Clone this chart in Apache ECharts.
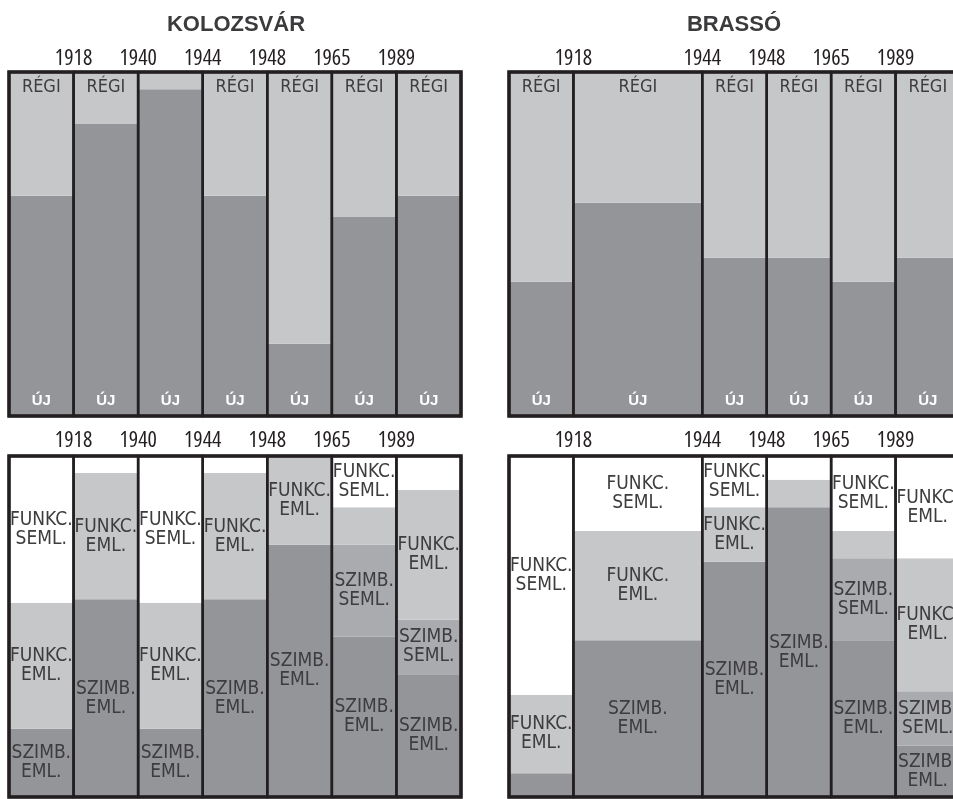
<!DOCTYPE html>
<html><head><meta charset="utf-8">
<script src="https://cdn.jsdelivr.net/npm/echarts@6/dist/echarts.min.js"></script>
<style>html,body{margin:0;padding:0;background:#fff}#c{width:953px;height:799px}</style>
</head><body><div id="c"></div>
<script>
// period index 0..7, year boundaries on the axis
const kolozsvarYears = ['1918','1940','1944','1948','1965','1989'];
const kolozsvarYearPos = [1,2,3,4,5,6];
const brassoYears = ['1918','1944','1948','1965','1989'];
const brassoYearPos = [1,3,4,5,6];

const kolozsvarColStart = [0,1,2,3,4,5,6];
const kolozsvarColEnd   = [1,2,3,4,5,6,7];
const brassoColStart = [0,1,3,4,5,6];
const brassoColEnd   = [1,3,4,5,6,7];

// top panels: share of ÚJ (new) names in %, the rest is RÉGI
const kolozsvarUj = [64, 85, 95, 64, 21, 58, 64];
const brassoUj    = [39, 62, 46, 46, 39, 46];

// bottom panels: shares in %, stacked from the bottom
const kolozsvarSzimbEml  = [20, 58, 20, 58, 74, 47, 36];
const kolozsvarSzimbSeml = [0, 0, 0, 0, 0, 27, 16];
const kolozsvarFunkcEml  = [37, 37, 37, 37, 26, 11, 38];
const kolozsvarFunkcSeml = [43, 5, 43, 5, 0, 15, 10];

const brassoSzimbEml  = [7, 46, 69, 85, 46, 15];
const brassoSzimbSeml = [0, 0, 0, 0, 24, 16];
const brassoFunkcEml  = [23, 32, 16, 8, 8, 39];
const brassoFunkcSeml = [70, 22, 15, 7, 22, 30];

const C = {white:'#ffffff', light:'#c6c7c9', mid:'#aaabae', dark:'#949599'};
const TXT = '#3d3d3f';
const NARROW = "'DejaVu Sans Condensed','Liberation Sans',sans-serif";
const REG = "'Liberation Sans',Arial,sans-serif";

function topItems(start, end, uj) {
  const items = [];
  for (let i = 0; i < uj.length; i++) {
    items.push({value:[start[i], end[i], 0, uj[i]], fill:C.dark, label:'ÚJ', pos:'insideBottom', dist:6,
      font:"bold 15px " + REG, color:'#ffffff'});
    const regi = 100 - uj[i];
    items.push({value:[start[i], end[i], uj[i], 100], fill:C.light, label: regi >= 10 ? 'RÉGI' : '', pos:'insideTop', dist:6,
      font:"18px " + NARROW, color:TXT});
  }
  return items;
}
const SEG_NAMES = ['SZIMB.\nEML.','SZIMB.\nSEML.','FUNKC.\nEML.','FUNKC.\nSEML.'];
const SEG_FILLS = [C.dark, C.mid, C.light, C.white];
function bottomItems(start, end, layers, override) {
  const items = [];
  for (let i = 0; i < start.length; i++) {
    let base = 0;
    for (let k = 0; k < layers.length; k++) {
      const v = layers[k][i];
      if (v > 0) {
        let label = v >= 12 ? SEG_NAMES[k] : '';
        if (override && override.col === i && override.layer === k) label = override.text;
        items.push({value:[start[i], end[i], base, base + v], fill:SEG_FILLS[k], label, pos:'inside', dist:0,
          font:"19px " + NARROW, color:TXT});
      }
      base += v;
    }
  }
  return items;
}
function outlineItems(start, end) {
  const items = start.map((s, i) => ({value:[s, end[i], 0, 100], lw:2.5}));
  items.push({value:[0, 7, 0, 100], lw:3.5});
  return items;
}

function segSeries(idx, items) {
  return {
    type:'custom', xAxisIndex:idx, yAxisIndex:idx, z:2, silent:true,
    data: items.map(it => it.value),
    renderItem: function (params, api) {
      const it = items[params.dataIndex];
      const p0 = api.coord([api.value(0), api.value(2)]);
      const p1 = api.coord([api.value(1), api.value(3)]);
      const el = {
        type:'rect',
        shape:{x:p0[0], y:p1[1], width:p1[0]-p0[0], height:p0[1]-p1[1]},
        style:{fill:it.fill}
      };
      if (it.label) {
        el.textContent = {style:{text:it.label, fill:it.color, font:it.font, align:'center', lineHeight:19}};
        el.textConfig = {position:it.pos, distance:it.dist};
      }
      return el;
    }
  };
}
function outlineSeries(idx, items) {
  return {
    type:'custom', xAxisIndex:idx, yAxisIndex:idx, z:5, silent:true,
    data: items.map(it => it.value),
    renderItem: function (params, api) {
      const it = items[params.dataIndex];
      const p0 = api.coord([api.value(0), api.value(2)]);
      const p1 = api.coord([api.value(1), api.value(3)]);
      return {
        type:'rect',
        shape:{x:p0[0], y:p1[1], width:p1[0]-p0[0], height:p0[1]-p1[1]},
        style:{fill:'none', stroke:'#231f20', lineWidth:it.lw}
      };
    }
  };
}

function yearFmt(pos, years) {
  return function (v) { const i = pos.indexOf(v); return i >= 0 ? years[i] : ''; };
}
function xAx(idx, pos, years, margin) {
  return {
    type:'value', gridIndex:idx, min:0, max:7, interval:1, position:'top',
    axisLine:{show:false}, axisTick:{show:false}, splitLine:{show:false},
    axisLabel:{show:true, margin:margin, color:'#231f20', fontSize:22, fontStyle:'condensed',
      fontFamily:"'Open Sans','DejaVu Sans Condensed',sans-serif",
      formatter: yearFmt(pos, years), showMinLabel:true, showMaxLabel:true}
  };
}
function yAx(idx) {
  return {type:'value', gridIndex:idx, min:0, max:100, show:false};
}

const chart = echarts.init(document.getElementById('c'), null, {renderer:'canvas'});
chart.setOption({
  animation:false,
  backgroundColor:'#ffffff',
  graphic:[
    {type:'text', x:236, y:25, style:{text:'KOLOZSVÁR', align:'center', verticalAlign:'middle', font:"bold 22px " + REG, fill:'#3b3b3d'}},
    {type:'text', x:734, y:25, style:{text:'BRASSÓ', align:'center', verticalAlign:'middle', font:"bold 22px " + REG, fill:'#3b3b3d'}}
  ],
  grid:[
    {left:9, top:72, width:452, height:344, outerBoundsMode:'none'},
    {left:509, top:72, width:451, height:344, outerBoundsMode:'none'},
    {left:9, top:456, width:452, height:341, outerBoundsMode:'none'},
    {left:509, top:456, width:451, height:341, outerBoundsMode:'none'}
  ],
  xAxis:[
    xAx(0, kolozsvarYearPos, kolozsvarYears, 2),
    xAx(1, brassoYearPos, brassoYears, 2),
    xAx(2, kolozsvarYearPos, kolozsvarYears, 4),
    xAx(3, brassoYearPos, brassoYears, 4)
  ],
  yAxis:[yAx(0), yAx(1), yAx(2), yAx(3)],
  series:[
    segSeries(0, topItems(kolozsvarColStart, kolozsvarColEnd, kolozsvarUj)),
    segSeries(1, topItems(brassoColStart, brassoColEnd, brassoUj)),
    segSeries(2, bottomItems(kolozsvarColStart, kolozsvarColEnd,
      [kolozsvarSzimbEml, kolozsvarSzimbSeml, kolozsvarFunkcEml, kolozsvarFunkcSeml])),
    segSeries(3, bottomItems(brassoColStart, brassoColEnd,
      [brassoSzimbEml, brassoSzimbSeml, brassoFunkcEml, brassoFunkcSeml],
      {col:5, layer:3, text:'FUNKC.\nEML.'})),
    outlineSeries(0, outlineItems(kolozsvarColStart, kolozsvarColEnd)),
    outlineSeries(1, outlineItems(brassoColStart, brassoColEnd)),
    outlineSeries(2, outlineItems(kolozsvarColStart, kolozsvarColEnd)),
    outlineSeries(3, outlineItems(brassoColStart, brassoColEnd))
  ]
});
</script>
</body></html>
